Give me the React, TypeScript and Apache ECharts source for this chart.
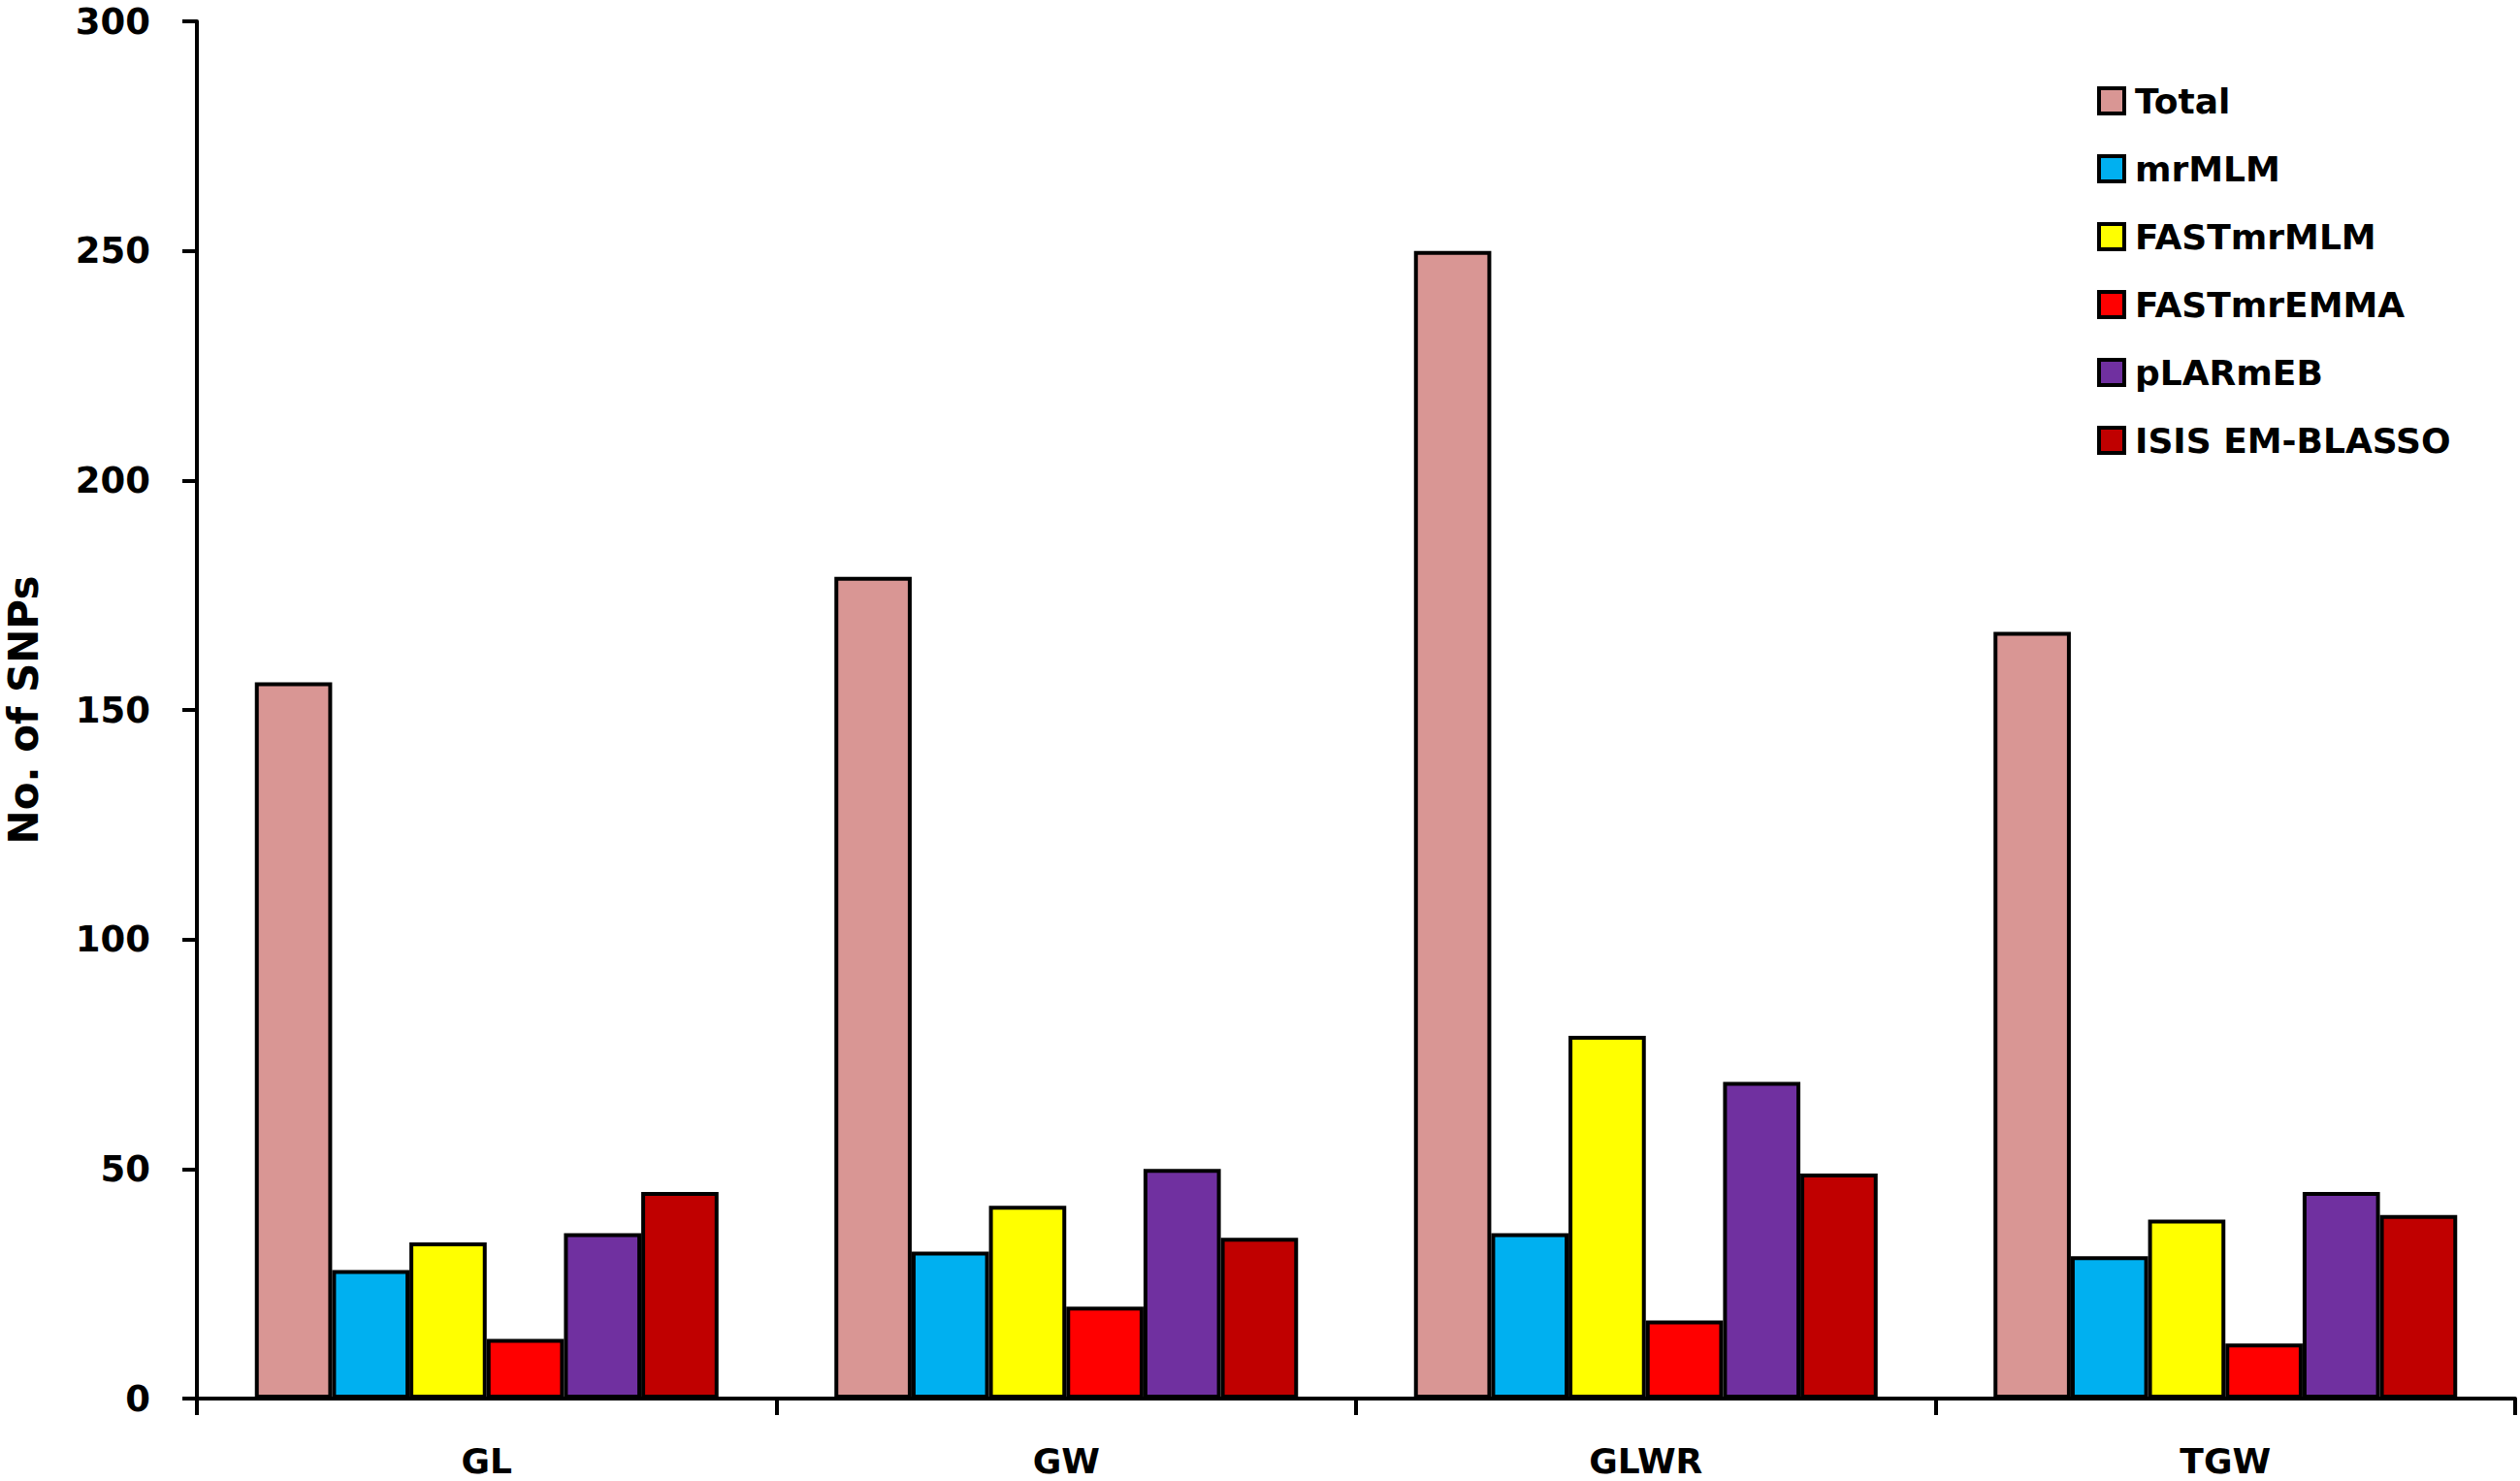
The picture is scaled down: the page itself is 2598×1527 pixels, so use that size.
import React, { useEffect, useRef } from "react";
import * as echarts from "echarts";

const categories = ["GL", "GW", "GLWR", "TGW"];
const seriesNames = ["Total", "mrMLM", "FASTmrMLM", "FASTmrEMMA", "pLARmEB", "ISIS EM-BLASSO"];
const totalValues = [156, 179, 250, 167];
const mrMLMValues = [28, 32, 36, 31];
const fastMrMLMValues = [34, 42, 79, 39];
const fastMrEMMAValues = [13, 20, 17, 12];
const pLARmEBValues = [36, 50, 69, 45];
const isisValues = [45, 35, 49, 40];
const colors = ["#D99694", "#00B0F0", "#FFFF00", "#FF0000", "#7030A0", "#C00000"];
const yTicks = [0, 50, 100, 150, 200, 250, 300];

const FONT = "'DejaVu Sans', 'Liberation Sans', Arial, sans-serif";

export default function App() {
  const ref = useRef<HTMLDivElement>(null);
  useEffect(() => {
    if (!ref.current) return;
    const chart = echarts.init(ref.current, undefined, { renderer: "svg" });
    const allValues = [totalValues, mrMLMValues, fastMrMLMValues, fastMrEMMAValues, pLARmEBValues, isisValues];
    chart.setOption({
      animation: false,
      backgroundColor: "#ffffff",
      grid: { left: 203, right: 5, top: 22, bottom: 85, containLabel: false, outerBoundsMode: "none" },
      legend: {
        orient: "vertical",
        left: 2157,
        top: 79,
        itemWidth: 26,
        itemHeight: 26,
        itemGap: 30,
        icon: "rect",
        data: seriesNames,
        itemStyle: { borderColor: "#000", borderWidth: 4 },
        textStyle: {
          fontFamily: FONT,
          fontWeight: "bold",
          fontSize: 36,
          color: "#000",
          lineHeight: 40,
          padding: [0, 0, 0, 6],
        },
      },
      xAxis: {
        type: "category",
        data: categories,
        axisLine: { lineStyle: { color: "#000", width: 4 } },
        axisTick: { show: true, length: 17, lineStyle: { color: "#000", width: 4 } },
        axisLabel: { fontFamily: FONT, fontWeight: "bold", fontSize: 36, color: "#000", margin: 46, lineHeight: 36 },
      },
      yAxis: {
        type: "value",
        min: 0,
        max: 300,
        interval: 50,
        name: "No. of SNPs",
        nameLocation: "middle",
        nameGap: 158,
        nameTextStyle: { fontFamily: FONT, fontWeight: "bold", fontSize: 42, color: "#000", lineHeight: 42 },
        axisLine: { show: true, lineStyle: { color: "#000", width: 4 } },
        axisTick: { show: true, length: 15, lineStyle: { color: "#000", width: 4 } },
        axisLabel: {
          fontFamily: FONT,
          fontWeight: "bold",
          fontSize: 37,
          color: "#000",
          margin: 48,
          lineHeight: 37,
          formatter: (v: number) => (yTicks.includes(v) ? String(v) : ""),
        },
        splitLine: { show: false },
      },
      series: seriesNames.map((name, i) => ({
        name,
        type: "bar",
        data: allValues[i],
        barGap: "0%",
        barCategoryGap: "20%",
        itemStyle: { color: colors[i], borderColor: "#000", borderWidth: 4 },
      })),
    });
    return () => chart.dispose();
  }, []);
  return (
    <div
      ref={ref}
      style={{ position: "fixed", left: 0, top: 0, width: 2598, height: 1527, background: "#fff" }}
    />
  );
}
